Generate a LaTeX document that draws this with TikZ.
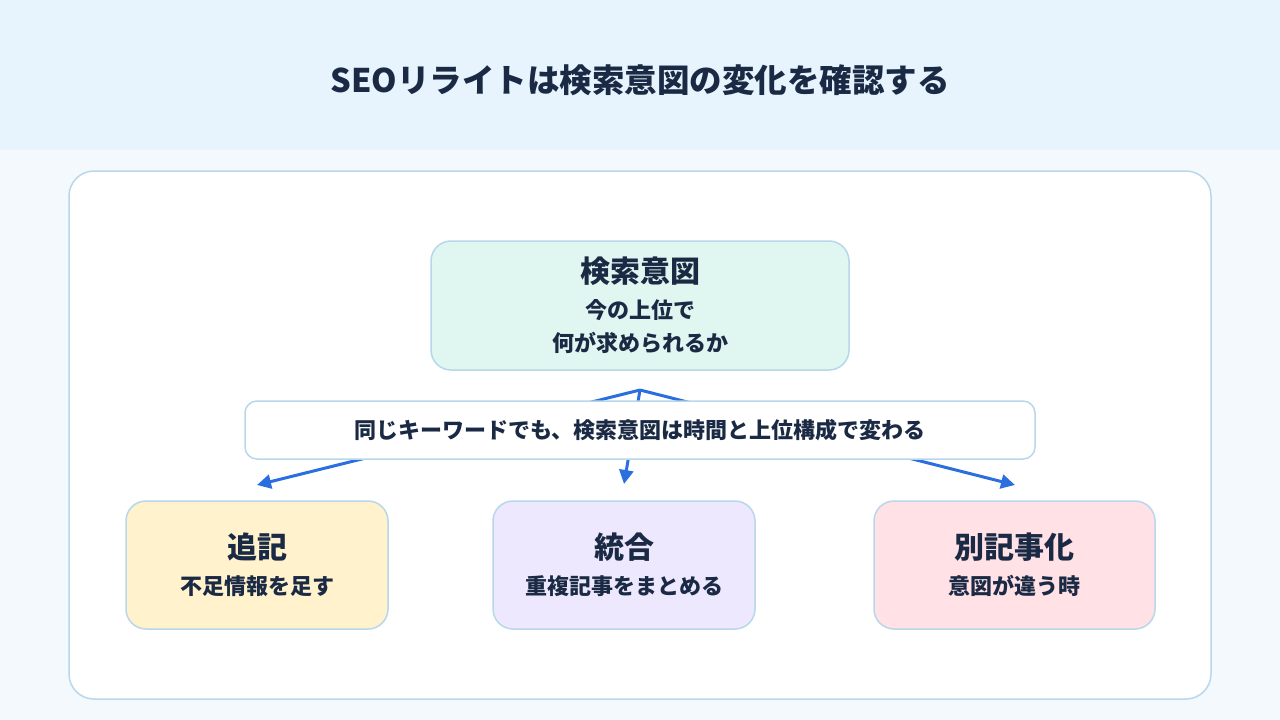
\documentclass[tikz,border=0pt]{standalone}
\usepackage{fontspec}
\setmainfont{Noto Sans CJK JP}
\usetikzlibrary{arrows.meta}
\definecolor{ink}{HTML}{1B2A44}
\definecolor{edge}{HTML}{B8D7EA}
\definecolor{arrowblue}{HTML}{2B6FDE}
\definecolor{headbg}{HTML}{E7F4FD}
\definecolor{pagebg}{HTML}{F4F9FD}
\definecolor{mint}{HTML}{E0F6F0}
\definecolor{cream}{HTML}{FFF2CC}
\definecolor{lilac}{HTML}{EDE8FD}
\definecolor{blush}{HTML}{FFE1E6}
\begin{document}
\begin{tikzpicture}[x=1pt, y=-1pt,
  every node/.style={text=ink, font=\bfseries},
  box/.style={draw=edge, line width=1.5pt, rounded corners=20pt, align=center, font=\fontsize{22}{36}\selectfont\bfseries},
  flow/.style={-{Triangle[length=14pt,width=14pt]}, line width=3pt, arrowblue}]
% Background and header
\fill[pagebg] (0,0) rectangle (1280,720);
\fill[headbg] (0,0) rectangle (1280,150);
\useasboundingbox (0,0) rectangle (1280,720);
\node[font=\fontsize{32.5}{38}\selectfont\bfseries] (title) at (640,80) {SEOリライトは検索意図の変化を確認する};
% Panel
\draw[edge, fill=white, line width=1.5pt, rounded corners=25pt] (69,171) rectangle (1211,699);
% Search intent
\node[box, fill=mint, minimum width=418pt, minimum height=129pt] (intent) at (640,305.5) {%
  {\fontsize{30}{36}\selectfont 検索意図}\\
  今の上位で\\[-3pt]
  何が求められるか};
\coordinate (src) at (640,390);
% Actions
\node[box, fill=cream, minimum width=262pt, minimum height=128pt] (add) at (257,565) {%
  {\fontsize{30}{36}\selectfont 追記}\\不足情報を足す};
\node[box, fill=lilac, minimum width=262pt, minimum height=128pt] (merge) at (624,565) {%
  {\fontsize{30}{36}\selectfont 統合}\\重複記事をまとめる};
\node[box, fill=blush, minimum width=281pt, minimum height=128pt] (split) at (1014.5,565) {%
  {\fontsize{30}{36}\selectfont 別記事化}\\意図が違う時};
\coordinate (addtip) at (257,485);
\coordinate (mergetip) at (624,484);
\coordinate (splittip) at (1015,485);
\draw[flow] (src) -- (addtip);
\draw[flow] (src) -- (mergetip);
\draw[flow] (src) -- (splittip);
% Note band
\node[box, fill=white, rounded corners=12pt, minimum width=790pt, minimum height=58pt, font=\fontsize{22}{26}\selectfont\bfseries] (note) at (640,430) {同じキーワードでも、検索意図は時間と上位構成で変わる};
\end{tikzpicture}
\end{document}
